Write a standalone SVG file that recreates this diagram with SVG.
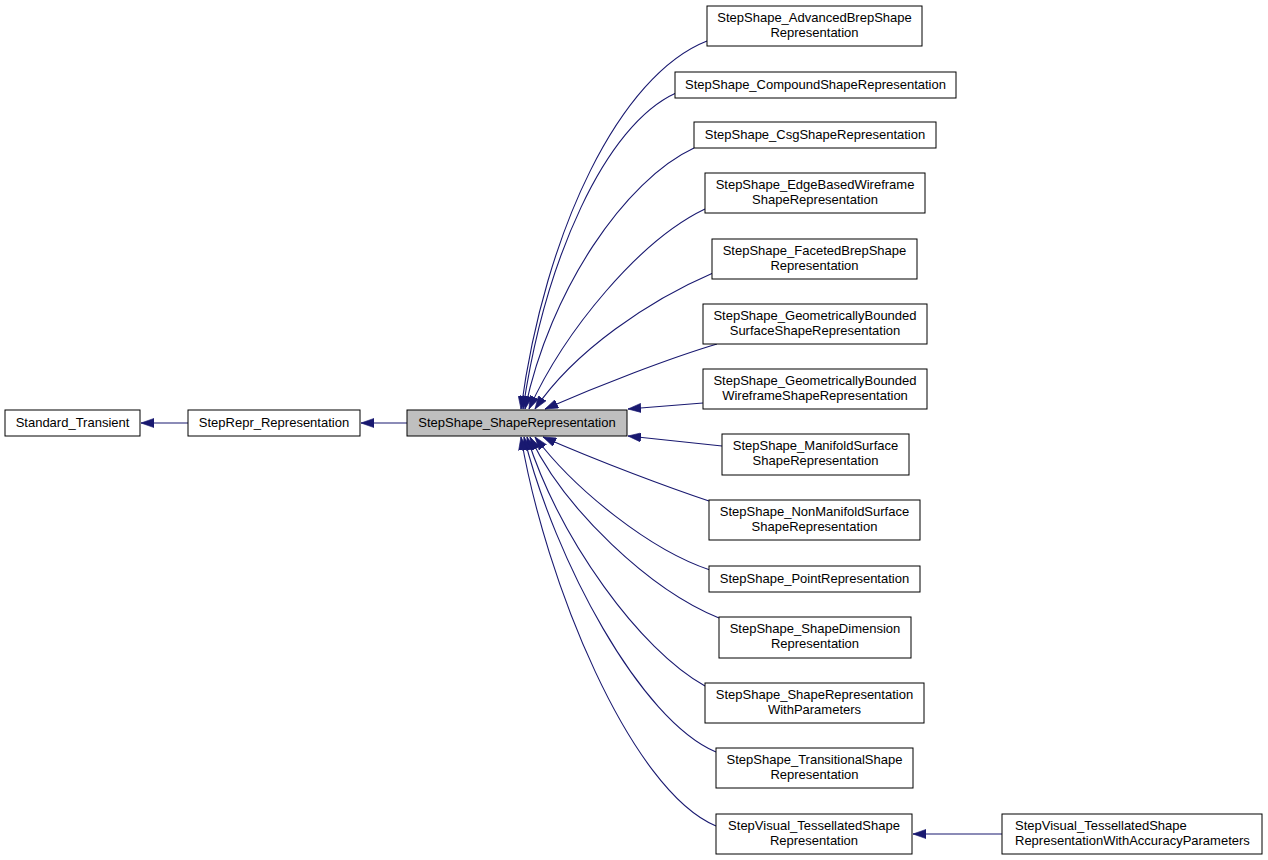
<svg xmlns="http://www.w3.org/2000/svg" width="1268" height="860" viewBox="0 0 1268 860">
<style>
.n rect{fill:#fff;stroke:#000;stroke-width:1}
.n text{font-family:"Liberation Sans",Arial,sans-serif;font-size:13px;fill:#000;text-anchor:middle}
#n_shaperep rect{fill:#bfbfbf}
#n_accuracy text{text-anchor:start}
.e path{fill:none;stroke:#191970;stroke-width:1.1;marker-end:url(#ah)}
</style>
<defs>
<marker id="ah" viewBox="0 0 10 7" refX="10" refY="3.5" markerWidth="13" markerHeight="9.5" markerUnits="userSpaceOnUse" orient="auto">
<path d="M0,0 L10,3.5 L0,7 z" fill="#191970" stroke="#191970" stroke-width="0.5"/>
</marker>
</defs>
<rect width="1268" height="860" fill="#fff"/>
<g id="edges" class="e">
<path d="M188,423 L141,423"/>
<path d="M407,423 L361,423"/>
<path d="M1002,834 L913,834"/>
<path d="M707,41 C620,75 545,230 521,409"/>
<path d="M676,93 C605,125 545,260 523,409"/>
<path d="M694,148 C625,180 550,290 525,409"/>
<path d="M705,209 C640,240 565,330 529,409"/>
<path d="M713,273 C650,300 575,350 535,409"/>
<path d="M717,344 C670,358 600,385 545,409"/>
<path d="M703,403 L628,409"/>
<path d="M722,446 L628,436"/>
<path d="M709,501 C670,488 600,462 543,437"/>
<path d="M710,570 C650,550 575,490 535,437"/>
<path d="M719,618 C650,590 565,510 530,437"/>
<path d="M705,686 C640,650 560,540 527,437"/>
<path d="M716,752 C640,720 555,560 524,437"/>
<path d="M716,826 C630,790 545,580 521,437"/>
</g>
<g id="n_transient" class="n"><rect x="5" y="410" width="135" height="26"/><text x="72.5" y="427">Standard_Transient</text></g>
<g id="n_reprrep" class="n"><rect x="188" y="410" width="172" height="26"/><text x="274" y="427">StepRepr_Representation</text></g>
<g id="n_shaperep" class="n"><rect x="407" y="410" width="220" height="26"/><text x="517" y="427">StepShape_ShapeRepresentation</text></g>
<g id="n_advbrep" class="n"><rect x="707" y="6" width="215" height="40"/><text x="814.5" y="22">StepShape_AdvancedBrepShape</text><text x="814.5" y="37">Representation</text></g>
<g id="n_compound" class="n"><rect x="675" y="72" width="281" height="26"/><text x="815.5" y="89">StepShape_CompoundShapeRepresentation</text></g>
<g id="n_csg" class="n"><rect x="694" y="122" width="242" height="26"/><text x="815" y="139">StepShape_CsgShapeRepresentation</text></g>
<g id="n_edgebased" class="n"><rect x="705" y="173" width="220" height="40"/><text x="815" y="189">StepShape_EdgeBasedWireframe</text><text x="815" y="204">ShapeRepresentation</text></g>
<g id="n_faceted" class="n"><rect x="712" y="239" width="205" height="40"/><text x="814.5" y="255">StepShape_FacetedBrepShape</text><text x="814.5" y="270">Representation</text></g>
<g id="n_gbsurface" class="n"><rect x="703" y="304" width="224" height="40"/><text x="815" y="320">StepShape_GeometricallyBounded</text><text x="815" y="335">SurfaceShapeRepresentation</text></g>
<g id="n_gbwire" class="n"><rect x="703" y="369" width="224" height="40"/><text x="815" y="385">StepShape_GeometricallyBounded</text><text x="815" y="400">WireframeShapeRepresentation</text></g>
<g id="n_manifold" class="n"><rect x="722" y="434" width="187" height="41"/><text x="815.5" y="450">StepShape_ManifoldSurface</text><text x="815.5" y="465">ShapeRepresentation</text></g>
<g id="n_nonmanifold" class="n"><rect x="709" y="500" width="211" height="40"/><text x="814.5" y="516">StepShape_NonManifoldSurface</text><text x="814.5" y="531">ShapeRepresentation</text></g>
<g id="n_point" class="n"><rect x="709" y="566" width="211" height="26"/><text x="814.5" y="583">StepShape_PointRepresentation</text></g>
<g id="n_shapedim" class="n"><rect x="719" y="617" width="192" height="41"/><text x="815" y="633">StepShape_ShapeDimension</text><text x="815" y="648">Representation</text></g>
<g id="n_withparams" class="n"><rect x="705" y="683" width="219" height="40"/><text x="814.5" y="699">StepShape_ShapeRepresentation</text><text x="814.5" y="714">WithParameters</text></g>
<g id="n_transitional" class="n"><rect x="716" y="748" width="197" height="40"/><text x="814.5" y="764">StepShape_TransitionalShape</text><text x="814.5" y="779">Representation</text></g>
<g id="n_tessellated" class="n"><rect x="716" y="814" width="196" height="40"/><text x="814" y="830">StepVisual_TessellatedShape</text><text x="814" y="845">Representation</text></g>
<g id="n_accuracy" class="n"><rect x="1002" y="814" width="260" height="40"/><text x="1015" y="830">StepVisual_TessellatedShape</text><text x="1015" y="845">RepresentationWithAccuracyParameters</text></g>
</svg>
